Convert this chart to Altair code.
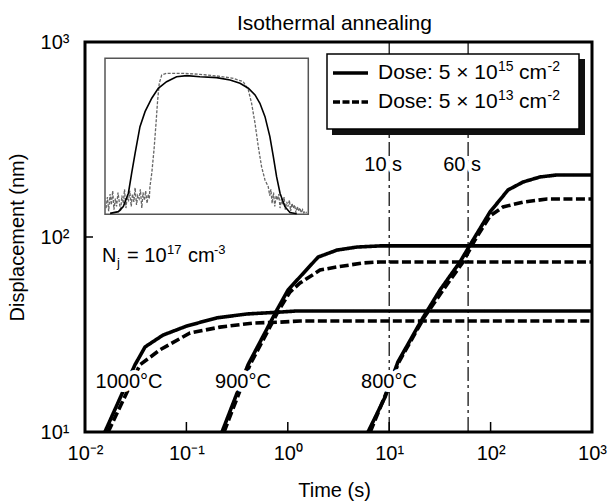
import altair as alt
import pandas as pd

FONT = "Liberation Sans"

# ---------------- data ----------------
TITLE = "Isothermal annealing"
TEMPS = ["1000°C", "900°C", "800°C"]
DOSES = ["5e15", "5e13"]

T_1000_HI = [0.0157, 0.0311, 0.0391, 0.0588, 0.1014, 0.2004, 0.396, 0.838, 1.18, 1000]
D_1000_HI = [10, 22.1, 27.3, 31.4, 35.0, 38.5, 40.3, 41.2, 41.7, 41.7]
T_1000_LO = [0.0169, 0.0348, 0.0550, 0.1086, 0.214, 0.454, 0.838, 1.32, 1000]
D_1000_LO = [10, 22.1, 26.4, 32.2, 34.5, 36.2, 36.6, 37.1, 37.1]

T_900_HI = [0.2244, 0.405, 0.782, 1.005, 1.99, 3.06, 4.81, 8.1, 1000]
D_900_HI = [10, 22.1, 42.3, 53.5, 78.9, 85.7, 88.8, 90.0, 90.0]
T_900_LO = [0.235, 0.423, 0.819, 1.05, 1.32, 2.08, 3.06, 5.52, 8.1, 1000]
D_900_LO = [10, 22.1, 42.3, 52.2, 58.1, 67.7, 70.2, 73.6, 74.5, 74.5]

T_800_HI = [6.18, 9.10, 12.2, 21.5, 31.7, 49.9, 62.7, 98.6, 148.5, 209, 307, 451, 1000]
D_800_HI = [10, 15.1, 22.9, 38.5, 53.5, 74.5, 91.0, 134.3, 174.2, 191.4, 203.2, 208, 208]
T_800_LO = [6.5, 12.5, 22.0, 34.0, 53.5, 70.2, 98.6, 132.4, 209, 360, 1000]
D_800_LO = [10, 22.9, 38.5, 53.5, 74.5, 96.6, 128.2, 142.6, 151, 156.6, 156.6]

TEMP_LABELS = ["1000°C", "900°C", "800°C"]
TEMP_LABEL_T = [0.0272, 0.361, 9.95]
TEMP_LABEL_D = [18.0, 18.0, 18.0]

MARK_T = [10, 60]
MARK_LABELS = ["10 s", "60 s"]
MARK_LABEL_D = [234, 234]

X_TICKS = [0.1, 1, 10, 100]
Y_TICKS = [100]
X_LABEL_VALUES = [0.01, 0.1, 1, 10, 100, 1000]
Y_LABEL_VALUES = [10, 100, 1000]

DOSE_TEXT = "Dose: 5 × 10"
DOSE_EXPONENTS = ["15", "13"]

NJ_T = [0.01472]
NJ_D = [74.5]

# inset: depth profiles (normalised depth, normalised concentration)
INSET_BLACK_X = [0.025, 0.066, 0.090, 0.115, 0.131, 0.148, 0.172, 0.197, 0.230, 0.262,
                 0.303, 0.352, 0.402, 0.467, 0.549, 0.615, 0.664, 0.705, 0.738, 0.762,
                 0.787, 0.811, 0.828, 0.844, 0.861, 0.885, 0.910, 0.943]
INSET_BLACK_Y = [0.006, 0.017, 0.049, 0.135, 0.263, 0.391, 0.562, 0.658, 0.744, 0.808,
                 0.850, 0.882, 0.889, 0.882, 0.876, 0.861, 0.840, 0.808, 0.765, 0.712,
                 0.626, 0.498, 0.370, 0.241, 0.135, 0.049, 0.011, 0.004]
INSET_GRAY_X = [0.005, 0.012, 0.018, 0.025, 0.031, 0.038, 0.044, 0.051, 0.057, 0.064,
                0.070, 0.077, 0.083, 0.090, 0.096, 0.103, 0.109, 0.116, 0.122, 0.129,
                0.135, 0.142, 0.148, 0.155, 0.161, 0.168, 0.174, 0.181, 0.187, 0.194,
                0.200, 0.207, 0.213, 0.218,
                0.221, 0.230, 0.241, 0.251, 0.259, 0.267, 0.279, 0.303, 0.385, 0.467,
                0.549, 0.631, 0.680, 0.705, 0.721, 0.738, 0.754, 0.770, 0.787, 0.803,
                0.810, 0.816, 0.822, 0.829, 0.835, 0.842, 0.848, 0.855, 0.861, 0.868,
                0.874, 0.881, 0.887, 0.894, 0.900, 0.907, 0.913, 0.920, 0.926, 0.933,
                0.939, 0.946, 0.952, 0.959, 0.965, 0.972, 0.978, 0.985, 0.992]
INSET_GRAY_Y = [0.04, 0.11, 0.02, 0.13, 0.06, 0.15, 0.03, 0.10, 0.05, 0.14,
                0.08, 0.02, 0.12, 0.07, 0.16, 0.04, 0.11, 0.09, 0.15, 0.05,
                0.13, 0.08, 0.17, 0.06, 0.12, 0.10, 0.16, 0.04, 0.14, 0.09,
                0.15, 0.07, 0.13, 0.10,
                0.177, 0.263, 0.412, 0.583, 0.733, 0.840, 0.893, 0.904, 0.904, 0.897,
                0.887, 0.872, 0.850, 0.797, 0.712, 0.583, 0.434, 0.306, 0.220, 0.177,
                0.12, 0.16, 0.07, 0.14, 0.05, 0.12, 0.09, 0.13, 0.04, 0.10,
                0.06, 0.11, 0.03, 0.08, 0.05, 0.09, 0.02, 0.07, 0.04, 0.06,
                0.01, 0.05, 0.02, 0.04, 0.01, 0.03, 0.01, 0.02, 0.01]

# ---------------- layout ----------------
W, H = 507, 390

XS = alt.Scale(type="log", domain=[0.01, 1000], nice=False)
YS = alt.Scale(type="log", domain=[10, 1000], nice=False)

XAXIS = alt.Axis(
    title="Time (s)", values=X_LABEL_VALUES,
    labelExpr="'10' + ['⁻²','⁻¹','⁰','¹','²','³'][round(log(datum.value)/LN10)+2]",
    ticks=False, domain=False, grid=False, labelFlush=False, labelOverlap=False,
    labelFont=FONT, labelFontSize=20, labelColor="black", labelPadding=11,
    titleFont=FONT, titleFontSize=20, titleFontWeight="normal", titleColor="black",
    titleY=64, titleX=249, titleBaseline="alphabetic",
)
YAXIS = alt.Axis(
    title="Displacement (nm)", values=Y_LABEL_VALUES,
    labelExpr="'10' + ['¹','²','³'][round(log(datum.value)/LN10)-1]",
    ticks=False, domain=False, grid=False, labelFlush=False, labelOverlap=False,
    labelFont=FONT, labelFontSize=20, labelColor="black", labelPadding=16,
    titleFont=FONT, titleFontSize=20, titleFontWeight="normal", titleColor="black",
    titleX=-61.5, titleBaseline="alphabetic",
)


def XE(field="t"):
    return alt.X(f"{field}:Q", scale=XS, axis=XAXIS)


def YE(field="D"):
    return alt.Y(f"{field}:Q", scale=YS, axis=YAXIS)


rows = []
for temp, dose, ts, ds in [
    ("1000°C", "5e13", T_1000_LO, D_1000_LO),
    ("900°C", "5e13", T_900_LO, D_900_LO),
    ("800°C", "5e13", T_800_LO, D_800_LO),
    ("1000°C", "5e15", T_1000_HI, D_1000_HI),
    ("900°C", "5e15", T_900_HI, D_900_HI),
    ("800°C", "5e15", T_800_HI, D_800_HI),
]:
    for t, d in zip(ts, ds):
        rows.append({"temp": temp, "dose": dose, "series": temp + dose, "t": t, "D": d})
curves_df = pd.DataFrame(rows)

one = pd.DataFrame({"a": [0]})

vlines = alt.Chart(pd.DataFrame({"t": MARK_T})).mark_rule(
    color="black", strokeWidth=1.2, strokeDash=[14, 4, 3, 4]
).encode(x=XE(), y=alt.value(0), y2=alt.value(H))

curves = alt.Chart(curves_df).mark_line(
    color="black", strokeWidth=3.6, strokeCap="butt"
).encode(
    x=XE(), y=YE(),
    strokeDash=alt.StrokeDash(
        "dose:N", scale=alt.Scale(domain=DOSES, range=[[1, 0], [9, 3.5]]), legend=None
    ),
    detail="series:N",
)

xticks = alt.Chart(pd.DataFrame({"t": X_TICKS})).mark_rule(
    color="black", strokeWidth=1.5
).encode(x=XE(), y=alt.value(H), y2=alt.value(H - 10))
yticks = alt.Chart(pd.DataFrame({"D": Y_TICKS})).mark_rule(
    color="black", strokeWidth=1.5
).encode(y=YE(), x=alt.value(0), x2=alt.value(8))

temp_df = pd.DataFrame({"label": TEMP_LABELS, "t": TEMP_LABEL_T, "D": TEMP_LABEL_D})
temp_halo = alt.Chart(temp_df).mark_text(
    font=FONT, fontSize=20, fill="white", stroke="white", strokeWidth=8,
    strokeJoin="round", align="center", baseline="middle"
).encode(x=XE(), y=YE(), text="label:N")
temp_text = alt.Chart(temp_df).mark_text(
    font=FONT, fontSize=20, color="black", align="center", baseline="middle"
).encode(x=XE(), y=YE(), text="label:N")

mark_df = pd.DataFrame({"label": MARK_LABELS, "t": MARK_T, "D": MARK_LABEL_D})
mark_halo = alt.Chart(mark_df).mark_text(
    font=FONT, fontSize=20, fill="white", stroke="white", strokeWidth=8,
    strokeJoin="round", align="center", baseline="middle", dx=-6
).encode(x=XE(), y=YE(), text="label:N")
mark_text = alt.Chart(mark_df).mark_text(
    font=FONT, fontSize=20, color="black", align="center", baseline="middle", dx=-6
).encode(x=XE(), y=YE(), text="label:N")

nj_df = pd.DataFrame({"t": NJ_T, "D": NJ_D})
nj_layers = []
for txt, dx, dy, fs in [("N", 0, 0, 20), ("j", 15, 5, 13), ("= 10", 25, 0, 20),
                        ("17", 65, -8, 13), ("cm", 86, 0, 20), ("-3", 112, -8, 13)]:
    nj_layers.append(
        alt.Chart(nj_df).mark_text(
            text=txt, font=FONT, fontSize=fs, color="black", align="left",
            baseline="alphabetic", dx=dx, dy=dy
        ).encode(x=XE(), y=YE())
    )

# legend (drawn by hand, with its drop shadow)
leg_shadow = alt.Chart(one).mark_rect(fill="#111111").encode(
    x=alt.value(247), x2=alt.value(500), y=alt.value(17), y2=alt.value(93))
leg_box = alt.Chart(one).mark_rect(fill="white", stroke="black", strokeWidth=1.5).encode(
    x=alt.value(242), x2=alt.value(494), y=alt.value(12), y2=alt.value(87))
leg_layers = [leg_shadow, leg_box]
for i, exp in enumerate(DOSE_EXPONENTS):
    base = 37 + 29 * i
    dash = [1, 0] if i == 0 else [7, 2.5]
    leg_layers.append(alt.Chart(one).mark_rule(
        color="black", strokeWidth=3.5, strokeDash=dash, strokeCap="butt"
    ).encode(x=alt.value(248), x2=alt.value(283), y=alt.value(base - 6)))
    for txt, xp, dy, fs in [(DOSE_TEXT, 293, 0, 21), (exp, 413, -8, 14),
                            ("cm", 434, 0, 21), ("-2", 462.5, -8, 14)]:
        leg_layers.append(alt.Chart(one).mark_text(
            text=txt, font=FONT, fontSize=fs, color="black", align="left",
            baseline="alphabetic"
        ).encode(x=alt.value(xp), y=alt.value(base + dy)))

inset_frame = alt.Chart(one).mark_rect(fill="white", stroke="#555555", strokeWidth=1.5).encode(
    x=alt.value(20), x2=alt.value(223.3), y=alt.value(16.3), y2=alt.value(172.3))

title_text = alt.Chart(one).mark_text(
    text=TITLE, font=FONT, fontSize=21, color="black", align="center",
    baseline="alphabetic"
).encode(x=alt.value(W / 2 - 4), y=alt.value(-12))

main = alt.layer(
    inset_frame, vlines, curves, xticks, yticks,
    temp_halo, temp_text, mark_halo, mark_text, *nj_layers, *leg_layers, title_text
)

# inset profiles on their own (independent) scales
IXS = alt.Scale(domain=[-0.09838, 2.3955], nice=False, zero=False)
IYS = alt.Scale(domain=[-1.3955, 1.1045], nice=False, zero=False)
gray_df = pd.DataFrame({"xn": INSET_GRAY_X, "yn": INSET_GRAY_Y})
black_df = pd.DataFrame({"xn": INSET_BLACK_X, "yn": INSET_BLACK_Y})
inset_gray = alt.Chart(gray_df).mark_line(
    color="#666666", strokeWidth=1.3, strokeDash=[3, 1.5]
).encode(x=alt.X("xn:Q", scale=IXS, axis=None), y=alt.Y("yn:Q", scale=IYS, axis=None))
inset_black = alt.Chart(black_df).mark_line(
    color="black", strokeWidth=1.6
).encode(x=alt.X("xn:Q", scale=IXS, axis=None), y=alt.Y("yn:Q", scale=IYS, axis=None))
inset = alt.layer(inset_gray, inset_black)

chart = alt.layer(main, inset).resolve_scale(
    x="independent", y="independent"
).properties(
    width=W, height=H,
    autosize=alt.AutoSizeParams(type="none"),
    padding={"left": 85, "top": 42, "right": 16, "bottom": 70},
).configure_view(stroke="black", strokeWidth=3)

chart.save("out.html", embed_options={"renderer": "svg", "actions": False})
